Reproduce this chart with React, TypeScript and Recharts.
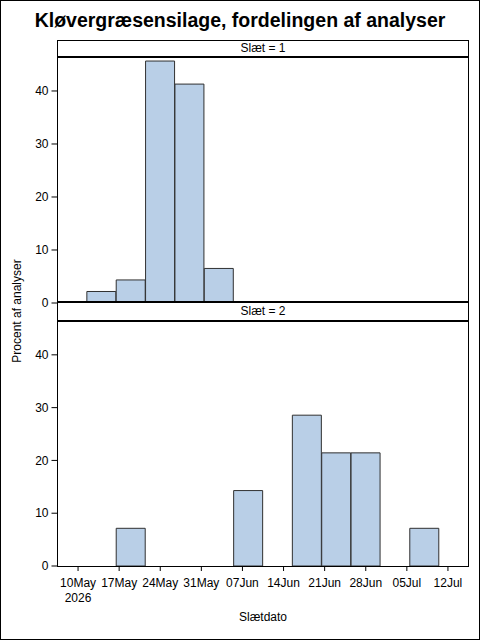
import { Bar, BarChart, XAxis, YAxis } from "recharts";

// 5-day bins, start given as days after 10 May 2026
const binStart = [-3.5, 1.5, 6.5, 11.5, 16.5, 21.5, 26.5, 31.5, 36.5, 41.5, 46.5, 51.5, 56.5, 61.5];
const slaet1 = [null, 2.17, 4.35, 45.65, 41.3, 6.52, 0, 0, 0, 0, 0, 0, 0, null];
const slaet2 = [null, 0, 7.14, 0, 0, 0, 14.29, 0, 28.57, 21.43, 21.43, 0, 7.14, null];

const tickDays = [0, 7, 14, 21, 28, 35, 42, 49, 56, 63];
const tickLabels = ["10May", "17May", "24May", "31May", "07Jun", "14Jun", "21Jun", "28Jun", "05Jul", "12Jul"];
const yTicks = [0, 10, 20, 30, 40];

const font = "'Liberation Sans', Arial, sans-serif";
const fill = "#B9CFE7";
const edge = "#303030";
const yMax = 46.6;

const rows1 = binStart.map((s, i) => ({ start: s, bin: String(i), pct: slaet1[i] }));
const rows2 = binStart.map((s, i) => ({ start: s, bin: String(i), pct: slaet2[i] }));

function DateTick({ x, y, payload }: any) {
  const i = tickDays.indexOf(payload.value);
  return (
    <text x={x} y={y} textAnchor="middle" fontSize={12} fontFamily={font} fill="#000">
      <tspan x={x} dy="0.71em">{tickLabels[i]}</tspan>
      {i === 0 && (
        <tspan x={x} dy={15}>
          2026
        </tspan>
      )}
    </text>
  );
}

const yAxisProps = {
  type: "number" as const,
  domain: [0, yMax],
  ticks: yTicks,
  interval: 0,
  width: 57.5,
  tickSize: 6,
  tickMargin: 3,
  axisLine: false,
  tickLine: { stroke: "#000" },
  tick: { fill: "#000", fontSize: 12, fontFamily: font },
  allowDataOverflow: true,
};

export default function App() {
  const abs = { position: "absolute" as const, boxSizing: "border-box" as const };
  return (
    <div
      style={{
        ...abs,
        left: 0,
        top: 0,
        width: 480,
        height: 640,
        border: "1px solid #000",
        background: "#fff",
        fontFamily: font,
        overflow: "hidden",
      }}
    >
      <div
        style={{ ...abs, left: 0, top: 8, width: 478, textAlign: "center", fontSize: 19.5, fontWeight: "bold" }}
      >
        Kløvergræsensilage, fordelingen af analyser
      </div>

      <BarChart
        width={480}
        height={330}
        data={rows1}
        margin={{ top: 56, right: 11.5, bottom: 27, left: 0 }}
        barCategoryGap={0}
        barGap={0}
        style={{ position: "absolute", left: -1, top: -1 }}
      >
        <XAxis xAxisId="bin" dataKey="bin" type="category" hide height={0} />
        <YAxis {...yAxisProps} />
        <Bar xAxisId="bin" dataKey="pct" fill={fill} stroke={edge} strokeWidth={1} isAnimationActive={false} />
      </BarChart>

      <BarChart
        width={480}
        height={640}
        data={rows2}
        margin={{ top: 320, right: 11.5, bottom: 34, left: 0 }}
        barCategoryGap={0}
        barGap={0}
        style={{ position: "absolute", left: -1, top: -1 }}
      >
        <XAxis xAxisId="bin" dataKey="bin" type="category" hide height={0} />
        <XAxis
          xAxisId="date"
          dataKey="start"
          type="number"
          domain={[-3.5, 66.5]}
          allowDataOverflow
          ticks={tickDays}
          height={40}
          tickSize={5}
          tickMargin={7}
          axisLine={false}
          tickLine={{ stroke: "#000" }}
          tick={<DateTick />}
          interval={0}
        />
        <YAxis {...yAxisProps} />
        <Bar xAxisId="bin" dataKey="pct" fill={fill} stroke={edge} strokeWidth={1} isAnimationActive={false} />
      </BarChart>

      {/* panel headers and frames */}
      <div
        style={{
          ...abs,
          left: 56,
          top: 39,
          width: 412,
          height: 18,
          borderTop: "1px solid #000",
          borderLeft: "1px solid #000",
          borderRight: "1px solid #000",
          borderBottom: "2px solid #000",
          fontSize: 12,
          textAlign: "center",
          lineHeight: "15px",
        }}
      >
        Slæt = 1
      </div>
      <div
        style={{
          ...abs,
          left: 56,
          top: 57,
          width: 412,
          height: 245,
          borderLeft: "1px solid #000",
          borderRight: "1px solid #000",
          borderBottom: "2px solid #000",
        }}
      />
      <div
        style={{
          ...abs,
          left: 56,
          top: 302,
          width: 412,
          height: 19,
          borderLeft: "1px solid #000",
          borderRight: "1px solid #000",
          borderBottom: "2px solid #000",
          fontSize: 12,
          textAlign: "center",
          lineHeight: "17px",
        }}
      >
        Slæt = 2
      </div>
      <div
        style={{
          ...abs,
          left: 56,
          top: 321,
          width: 412,
          height: 245,
          borderLeft: "1px solid #000",
          borderRight: "1px solid #000",
          borderBottom: "1px solid #000",
        }}
      />

      <div
        style={{
          ...abs,
          left: 16,
          top: 310,
          width: 0,
          height: 0,
        }}
      >
        <div
          style={{
            position: "absolute",
            left: -100,
            top: -8,
            width: 200,
            textAlign: "center",
            fontSize: 12,
            lineHeight: "16px",
            transform: "rotate(-90deg)",
            whiteSpace: "nowrap",
          }}
        >
          Procent af analyser
        </div>
      </div>

      <div style={{ ...abs, left: 56, top: 609, width: 412, textAlign: "center", fontSize: 12 }}>Slætdato</div>
    </div>
  );
}
